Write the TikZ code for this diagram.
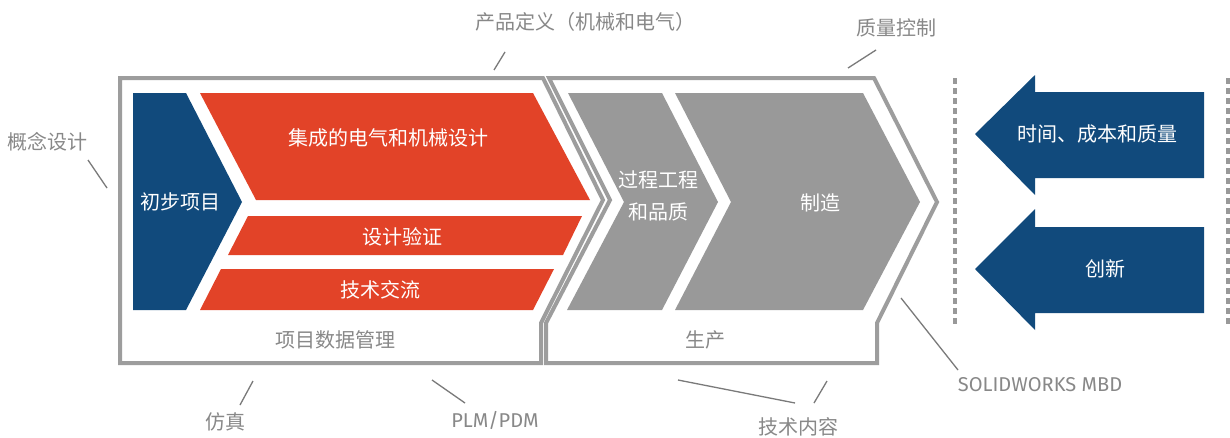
\documentclass[tikz,border=0pt]{standalone}
\usepackage{fontspec}
\setmainfont{Fira Sans}
\newfontfamily\cjk{Noto Sans CJK SC}
\definecolor{sbblue}{HTML}{114A7C}
\definecolor{sbred}{HTML}{E24328}
\definecolor{sbgray}{HTML}{999999}
\definecolor{sbframe}{HTML}{9D9D9D}
\definecolor{sblabel}{HTML}{888888}
\definecolor{sbleader}{HTML}{7A7A7A}
\begin{document}
\begin{tikzpicture}[x=1pt,y=-1pt,
  frame/.style={draw=sbframe,line width=4pt,line join=miter,fill=white},
  bluefill/.style={fill=sbblue},
  redfill/.style={fill=sbred},
  grayfill/.style={fill=sbgray},
  intext/.style={text=white,font=\cjk\fontsize{20}{24}\selectfont,inner sep=0pt},
  label/.style={text=sblabel,font=\cjk\fontsize{20}{24}\selectfont,inner sep=0pt},
  latlabel/.style={text=sblabel,font=\fontsize{20}{24}\selectfont,inner sep=0pt},
  leader/.style={draw=sbleader,line width=1.3pt},
  sep/.style={draw=sbgray,line width=3.5pt,dash pattern=on 6pt off 4pt}
]
\useasboundingbox (0,0) rectangle (1230,437);
\fill[white] (0,0) rectangle (1230,437);

% frames
\path[frame] (120,78) -- (543,78) -- (603,200) -- (541,323) -- (541,363) -- (120,363) -- cycle;
\path[frame] (549,78) -- (874,78) -- (937,202) -- (877,323) -- (877,363) -- (546,363) -- (546,323) -- (610,200) -- cycle;

% left group
\path[bluefill] (133,93) -- (186,93) -- (242,202) -- (186,310) -- (133,310) -- cycle;
\path[redfill] (200,93) -- (533,93) -- (590,200) -- (256,200) -- cycle;
\path[redfill] (248,216) -- (582,216) -- (563,255) -- (228,255) -- cycle;
\path[redfill] (221,269) -- (554,269) -- (533,310) -- (200,310) -- cycle;

% right group
\path[grayfill] (568,93) -- (662,93) -- (718,202) -- (662,310) -- (567,310) -- (624,202) -- cycle;
\path[grayfill] (675,93) -- (863,93) -- (920,202) -- (863,310) -- (675,310) -- (731,202) -- cycle;

% separators
\path[sep] (955,78) -- (955,327);
\path[sep] (1228,78) -- (1228,327);

% blue arrows
\path[bluefill] (975,134) -- (1035,75) -- (1035,92) -- (1204,92) -- (1204,178) -- (1035,178) -- (1035,195) -- cycle;
\path[bluefill] (975,269) -- (1035,209) -- (1035,227) -- (1204,227) -- (1204,313) -- (1035,313) -- (1035,330) -- cycle;

% inner texts
\node[intext] (prelim) at (180,202) {初步项目};
\node[intext] (integ) at (388,138) {集成的电气和机械设计};
\node[intext] (verif) at (402,237) {设计验证};
\node[intext] (tcomm) at (380,290) {技术交流};
\node[intext,align=center,font=\cjk\fontsize{20}{32}\selectfont] (proc) at (658,196) {过程工程\\和品质};
\node[intext] (manu) at (820,203) {制造};
\node[intext] (tcq) at (1097,134) {时间、成本和质量};
\node[intext] (innov) at (1105,269) {创新};
\node[label] (pdm) at (335,340) {项目数据管理};
\node[label] (prod) at (705,340) {生产};

% outer labels
\node[label] (pdef) at (585,22) {产品定义（机械和电气）};
\node[label] (qc) at (896,28) {质量控制};
\node[label] (concept) at (47,142) {概念设计};
\node[label] (sim) at (225,422) {仿真};
\node[latlabel] (plm) at (495,420) {PLM/PDM};
\node[label] (tech) at (798,427) {技术内容};
\node[latlabel] (mbd) at (1040,385) {SOLIDWORKS MBD};

% leader lines
\coordinate (pdefA) at (505,52); \coordinate (pdefB) at (494,70);
\coordinate (qcA) at (876,50); \coordinate (qcB) at (848,68);
\coordinate (concA) at (88,160); \coordinate (concB) at (107,188);
\coordinate (simA) at (253,381); \coordinate (simB) at (240,405);
\coordinate (plmA) at (432,380); \coordinate (plmB) at (465,403);
\coordinate (techA) at (678,380); \coordinate (techB) at (795,403);
\coordinate (techC) at (827,381); \coordinate (techD) at (814,403);
\coordinate (mbdA) at (901,298); \coordinate (mbdB) at (958,370);
\draw[leader] (pdefA) -- (pdefB);
\draw[leader] (qcA) -- (qcB);
\draw[leader] (concA) -- (concB);
\draw[leader] (simA) -- (simB);
\draw[leader] (plmA) -- (plmB);
\draw[leader] (techA) -- (techB);
\draw[leader] (techC) -- (techD);
\draw[leader] (mbdA) -- (mbdB);
\end{tikzpicture}
\end{document}
